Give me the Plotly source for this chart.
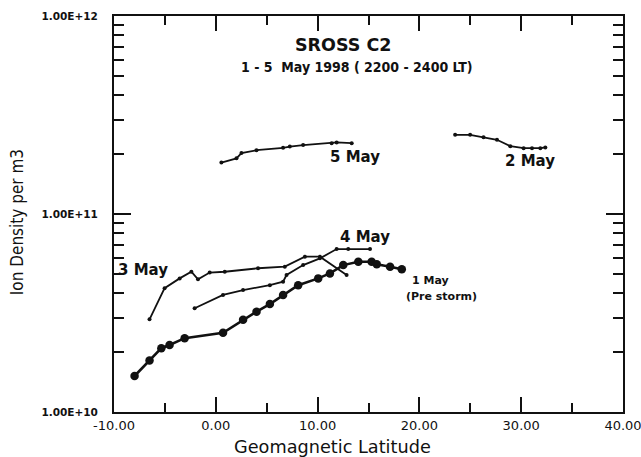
import math
import plotly.graph_objects as go

# Data (geomagnetic latitude, ion density per m3)
may1_lat = [-7.98, -6.51, -5.35, -4.54, -3.06, 0.71, 2.68, 4.00, 5.31, 6.61, 8.09,
            10.06, 11.21, 12.52, 14.00, 15.31, 15.81, 17.12, 18.27]
may1_den = [1.52e10, 1.82e10, 2.10e10, 2.18e10, 2.36e10, 2.51e10, 2.92e10, 3.21e10,
            3.51e10, 3.90e10, 4.37e10, 4.73e10, 5.01e10, 5.52e10, 5.74e10, 5.74e10,
            5.58e10, 5.42e10, 5.26e10]

may2_lat = [23.51, 24.98, 26.30, 27.62, 28.93, 30.24, 31.06, 31.88, 32.37]
may2_den = [2.51e11, 2.51e11, 2.44e11, 2.37e11, 2.20e11, 2.15e11, 2.15e11, 2.15e11, 2.17e11]

may3_lat = [-6.51, -5.03, -3.55, -2.40, -1.75, -0.60, 0.88, 4.15, 6.78, 8.75, 10.23, 12.85]
may3_den = [2.94e10, 4.22e10, 4.73e10, 5.11e10, 4.68e10, 5.06e10, 5.11e10, 5.32e10,
            5.42e10, 6.09e10, 6.09e10, 4.92e10]

may4_lat = [-2.08, 0.71, 2.68, 5.31, 6.61, 6.95, 8.58, 10.23, 11.87, 13.01, 15.15]
may4_den = [3.34e10, 3.90e10, 4.13e10, 4.37e10, 4.55e10, 4.92e10, 5.52e10, 5.97e10,
            6.65e10, 6.65e10, 6.65e10]

may5_lat = [0.55, 2.03, 2.52, 4.00, 6.61, 7.27, 8.58, 11.38, 11.87, 13.35]
may5_den = [1.82e11, 1.91e11, 2.03e11, 2.10e11, 2.16e11, 2.19e11, 2.23e11, 2.28e11,
            2.30e11, 2.28e11]

x_ticks = [-10, 0, 10, 20, 30, 40]
x_ticktext = ["-10.00", "0.00", "10.00", "20.00", "30.00", "40.00"]
y_ticks = [1e10, 1e11, 1e12]
y_ticktext = ["1.00E+10", "1.00E+11", "1.00E+12"]

FONT = "DejaVu Sans"
COND = "DejaVu Sans Condensed, DejaVu Sans"
BLACK = "#111111"

fig = go.Figure()

thin = dict(mode="lines+markers", line=dict(color=BLACK, width=1.8),
            marker=dict(color=BLACK, size=4), showlegend=False)

fig.add_trace(go.Scatter(x=may5_lat, y=may5_den, name="5 May", **thin))
fig.add_trace(go.Scatter(x=may2_lat, y=may2_den, name="2 May", **thin))
fig.add_trace(go.Scatter(x=may3_lat, y=may3_den, name="3 May", **thin))
fig.add_trace(go.Scatter(x=may4_lat, y=may4_den, name="4 May", **thin))
fig.add_trace(go.Scatter(x=may1_lat, y=may1_den, name="1 May", mode="lines+markers",
                         line=dict(color=BLACK, width=2.6),
                         marker=dict(color=BLACK, size=8.5), showlegend=False))

minor_y = [m * 10 ** e for e in (10, 11) for m in range(2, 10)]

fig.update_xaxes(range=[-10, 40], tickvals=x_ticks, ticktext=x_ticktext,
                 ticks="inside", ticklen=15, tickwidth=2, tickcolor=BLACK,
                 showline=True, linewidth=2, linecolor=BLACK, mirror="ticks",
                 showgrid=False, zeroline=False, ticklabeloverflow="allow",
                 automargin=False,
                 minor=dict(tickvals=[-5, 5, 15, 25, 35], ticks="inside", ticklen=9,
                            tickwidth=2, tickcolor=BLACK, showgrid=False),
                 tickfont=dict(family=FONT, size=13, color=BLACK))

fig.update_yaxes(type="log", range=[10, 12], tickvals=y_ticks, ticktext=y_ticktext,
                 ticks="inside", ticklen=17, tickwidth=2, tickcolor=BLACK,
                 showline=True, linewidth=2, linecolor=BLACK, mirror="ticks",
                 showgrid=False, zeroline=False, ticklabelstandoff=12,
                 automargin=False,
                 minor=dict(tickvals=minor_y, ticks="inside", ticklen=10,
                            tickwidth=2, tickcolor=BLACK, showgrid=False),
                 tickfont=dict(family=FONT, size=10.5, color=BLACK, weight="bold"))

# axis titles placed as paper annotations to match the reference offsets
fig.add_annotation(x=0.43, y=-0.088, xref="paper", yref="paper",
                   text="Geomagnetic Latitude", showarrow=False,
                   font=dict(family=FONT, size=17.7, color=BLACK),
                   xanchor="center", yanchor="middle")
fig.add_annotation(x=-0.19, y=0.48, xref="paper", yref="paper",
                   text="Ion Density per m3", showarrow=False, textangle=-90,
                   font=dict(family=COND, size=17, color=BLACK),
                   xanchor="center", yanchor="middle")

labels = [
    ("SROSS C2", 12.5, 7.15e11, 17.5),
    ("1 - 5\u00a0 May 1998 ( 2200 - 2400 LT)", 13.9, 5.52e11, 14),
    ("5 May", 13.7, 1.94e11, 15),
    ("2 May", 30.9, 1.85e11, 15),
    ("4 May", 14.65, 7.66e10, 15),
    ("3 May", -7.2, 5.21e10, 15),
    ("1 May", 21.05, 4.59e10, 11),
    ("(Pre storm)", 22.2, 3.81e10, 11),
]
for text, x, y, size in labels:
    fam = COND if size == 14 else FONT
    fig.add_annotation(x=x, y=math.log10(y), text=text, showarrow=False,
                       font=dict(family=fam, size=size, color=BLACK, weight="bold"),
                       xanchor="center", yanchor="middle")

fig.update_layout(width=641, height=457, margin=dict(l=114, r=18, t=16, b=45),
                  paper_bgcolor="white", plot_bgcolor="white",
                  font=dict(family=FONT, color=BLACK))

fig.write_html("out.html")
